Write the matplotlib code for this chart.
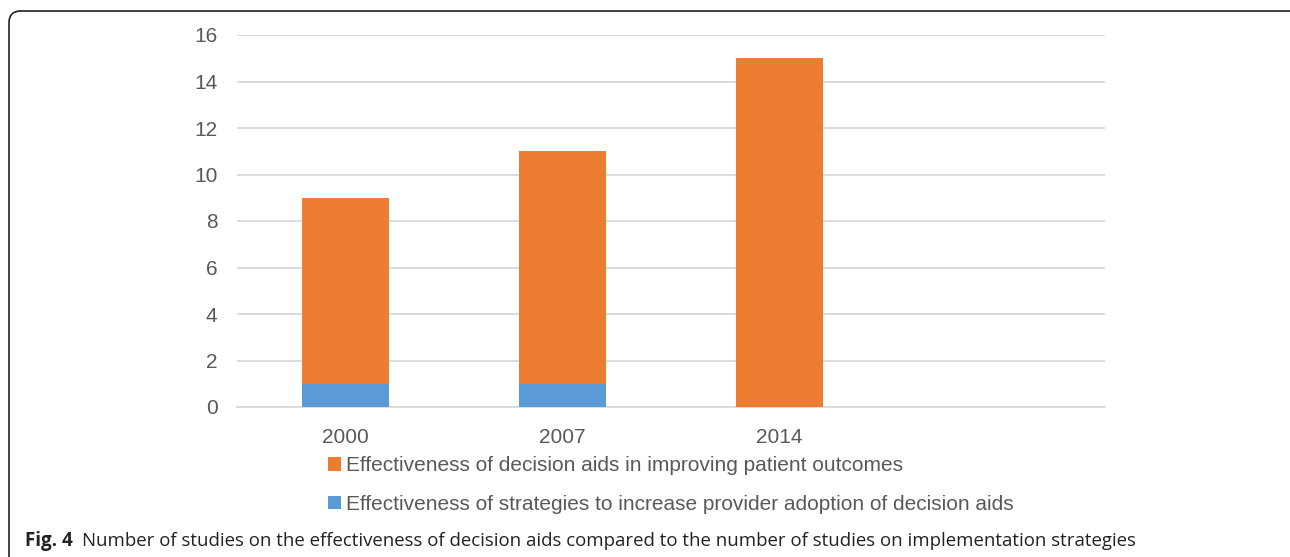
import matplotlib
matplotlib.use('Agg')
import matplotlib.pyplot as plt
from matplotlib.patches import FancyBboxPatch, Patch

years = ['2000', '2007', '2014']
adoption = [1, 1, 0]          # blue, bottom
outcomes = [8, 10, 15]        # orange, stacked on top
label_out = 'Effectiveness of decision aids in improving patient outcomes'
label_adopt = 'Effectiveness of strategies to increase provider adoption of decision aids'
caption_bold = 'Fig. 4'
caption = 'Number of studies on the effectiveness of decision aids compared to the number of studies on implementation strategies'

orange = '#ED7D31'
blue = '#5B9BD5'
grey = '#595959'

plt.rcParams['font.family'] = ['Liberation Sans', 'DejaVu Sans']

fig = plt.figure(figsize=(12.9, 5.57), dpi=100)
ax = fig.add_axes([237/1290, 150/557, (1105-237)/1290, (522-150)/557])

x = list(range(len(years)))
ax.bar(x, adoption, width=0.4, color=blue, zorder=3)
ax.bar(x, outcomes, width=0.4, bottom=adoption, color=orange, zorder=3)

ax.set_xlim(-0.5, 3.5)
ax.set_ylim(0, 16)
ax.set_yticks(range(0, 17, 2))
ax.set_xticks(x)
ax.set_xticklabels(years)
ax.tick_params(axis='both', length=0, labelsize=15, colors=grey)
ax.tick_params(axis='x', pad=15)
ax.tick_params(axis='y', pad=14)
ax.grid(axis='y', color='#d9d9d9', linewidth=1.3, zorder=0)
for s in ['top', 'right', 'left']:
    ax.spines[s].set_visible(False)
ax.spines['bottom'].set_color('#d9d9d9')
ax.spines['bottom'].set_linewidth(1.3)

handles = [Patch(facecolor=orange, label=label_out), Patch(facecolor=blue, label=label_adopt)]
fig.legend(handles=handles, loc='upper left', bbox_to_anchor=(318/1290, 1 - 446/557),
           frameon=False, fontsize=15, labelcolor=grey, handlelength=0.6, handleheight=0.6,
           handletextpad=0.25, labelspacing=0.95, borderpad=0)

fig.text(25/1290, 1 - 541/557, caption_bold, fontsize=13.5, fontweight='bold',
         family=['Open Sans', 'DejaVu Sans'], va='center', ha='left', color='#222222')
fig.text(82/1290, 1 - 541/557, caption, fontsize=13.4,
         family=['Open Sans', 'DejaVu Sans'], va='center', ha='left', color='#222222')

border = FancyBboxPatch((9/1290, -0.1), 1.2, 1 - 11/557 + 0.1,
                        boxstyle='round,pad=0,rounding_size=0.009', transform=fig.transFigure,
                        facecolor='none', edgecolor='#222222', linewidth=1.2, clip_on=False,
                        mutation_aspect=1290/557)
fig.patches.append(border)

fig.savefig('out.png', dpi=100)
